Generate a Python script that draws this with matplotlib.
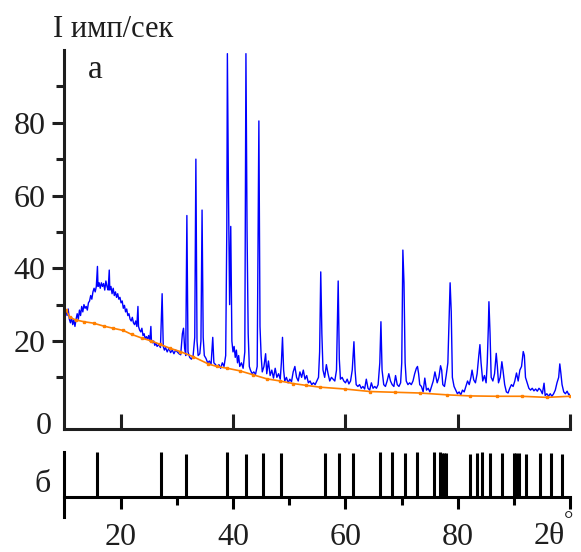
import matplotlib.pyplot as plt

# diffractogram (a)
two_theta = [
    10.3, 10.5, 10.7, 10.9, 11.1, 11.3, 11.5, 11.7, 11.9, 12.1, 12.3, 12.5, 12.7, 12.9,
    13.1, 13.3, 13.5, 13.7, 13.9, 14.1, 14.3, 14.5, 14.7, 14.9, 15.1, 15.3, 15.5, 15.7,
    15.9, 16.0, 16.2, 16.4, 16.6, 16.8, 17.0, 17.2, 17.4, 17.6, 17.8, 18.0, 18.1, 18.3,
    18.5, 18.7, 18.9, 19.1, 19.3, 19.5, 19.7, 19.9, 20.1, 20.3, 20.5, 20.7, 20.9, 21.1,
    21.3, 21.5, 21.7, 21.9, 22.1, 22.3, 22.5, 22.7, 22.9, 23.1, 23.2, 23.4, 23.6, 23.8,
    24.0, 24.2, 24.4, 24.6, 24.8, 25.0, 25.2, 25.4, 25.5, 25.7, 25.9, 26.1, 26.3, 26.5,
    26.8, 27.1, 27.4, 27.6, 27.8, 28.0, 28.3, 28.6, 28.9, 29.2, 29.5, 29.8, 30.1, 30.4,
    30.7, 31.0, 31.2, 31.4, 31.6, 31.8, 32.0, 32.3, 32.6, 32.9, 33.2, 33.4, 33.6, 33.8,
    34.1, 34.3, 34.5, 34.7, 34.9, 35.2, 35.5, 35.8, 36.1, 36.4, 36.6, 36.9, 37.2, 37.5,
    37.8, 38.1, 38.4, 38.7, 38.9, 39.0, 39.2, 39.4, 39.6, 39.8, 40.0, 40.2, 40.4, 40.6,
    40.8, 41.0, 41.2, 41.5, 41.8, 42.1, 42.3, 42.5, 42.7, 42.9, 43.1, 43.4, 43.7, 44.0,
    44.3, 44.6, 44.8, 45.0, 45.2, 45.5, 45.8, 46.0, 46.3, 46.6, 46.9, 47.2, 47.5, 47.8,
    48.1, 48.4, 48.6, 48.8, 49.0, 49.2, 49.5, 49.8, 50.1, 50.4, 50.7, 51.0, 51.3, 51.6,
    51.9, 52.2, 52.5, 52.8, 53.1, 53.4, 53.7, 54.0, 54.3, 54.6, 54.9, 55.2, 55.4, 55.6,
    55.8, 56.0, 56.3, 56.6, 56.9, 57.2, 57.5, 57.8, 58.1, 58.4, 58.7, 58.9, 59.1, 59.4,
    59.7, 60.0, 60.3, 60.6, 60.9, 61.2, 61.5, 61.7, 61.9, 62.2, 62.5, 62.8, 63.1, 63.4,
    63.7, 64.0, 64.3, 64.6, 64.9, 65.2, 65.5, 65.8, 66.1, 66.3, 66.5, 66.8, 67.1, 67.4,
    67.7, 68.0, 68.3, 68.6, 68.9, 69.2, 69.5, 69.8, 70.0, 70.2, 70.4, 70.6, 70.8, 71.1,
    71.4, 71.7, 72.0, 72.3, 72.6, 72.8, 73.0, 73.2, 73.5, 73.8, 74.1, 74.4, 74.7, 75.0,
    75.3, 75.6, 75.9, 76.1, 76.3, 76.6, 76.9, 77.1, 77.3, 77.6, 77.9, 78.2, 78.4, 78.6,
    78.8, 79.0, 79.3, 79.6, 79.9, 80.2, 80.5, 80.8, 81.1, 81.4, 81.7, 82.0, 82.3, 82.5,
    82.8, 83.1, 83.4, 83.7, 83.9, 84.1, 84.4, 84.7, 85.0, 85.2, 85.4, 85.5, 85.7, 85.9,
    86.2, 86.5, 86.8, 87.0, 87.2, 87.5, 87.8, 88.0, 88.3, 88.6, 88.9, 89.2, 89.5, 89.8,
    90.1, 90.4, 90.7, 91.0, 91.3, 91.6, 91.8, 92.0, 92.3, 92.6, 92.9, 93.2, 93.5, 93.8,
    94.1, 94.4, 94.7, 95.0, 95.3, 95.5, 95.8, 96.1, 96.4, 96.7, 97.0, 97.3, 97.6, 97.9,
    98.1, 98.3, 98.5, 98.8, 99.1, 99.4, 99.7, 100.0,
]
intensity = [
    28.5, 27, 28.8, 26, 25, 26.5, 24.5, 25.8, 24, 26, 27.5, 26, 28.5, 27,
    29.5, 28, 30, 29, 29.5, 28.5, 30.5, 31, 32.5, 31.5, 33.5, 34.5, 33.5, 35,
    40.5, 35, 36, 34.5, 36, 35, 35.8, 34, 36.5, 35, 34, 39.5, 34, 35,
    33, 34.5, 32.5, 33.5, 32, 33, 31.5, 32, 30.5, 31, 29, 29.8, 28, 28.8,
    27, 27.5, 26, 25.5, 26.5, 25, 24.5, 25.5, 24, 29.5, 24, 23, 22.5, 23.5,
    21.5, 22, 20.5, 21.2, 20.5, 21.5, 20, 24, 20, 19.5, 20, 18.8, 19.5, 18.5,
    19, 18.2, 33, 18.5, 17.5, 18.2, 17, 18, 16.8, 17.5, 16.5, 17.5, 17, 16.5,
    16.2, 22, 23.5, 18, 16, 54.5, 17, 15.5, 15, 15.8, 21, 70, 20, 16,
    16.5, 20, 56, 21, 16, 15.2, 14, 14.5, 13.5, 21, 14, 13.5, 12.8, 13.5,
    12.5, 14, 13, 16, 51, 99, 60, 30, 51.5, 20, 17, 18.5, 15.5, 17.5,
    14, 16, 13, 14, 12.5, 17, 99, 50, 22, 13, 12, 11, 11.5, 10.8,
    13, 80.5, 24, 16, 11.5, 13, 16.5, 11, 14.5, 10.5, 12, 9.8, 12.5, 10,
    11, 9.5, 14, 21, 12, 9, 10, 8.5, 9.5, 8.8, 11.5, 13, 10, 9,
    11.5, 10, 12, 9.5, 10.5, 8.5, 9, 8, 8.5, 8, 9, 10, 17, 39,
    22, 12, 10, 13.5, 11, 9, 10, 9.5, 9, 12, 36.5, 15, 9.5, 10,
    9, 8.5, 9.5, 8.2, 9, 12, 19.8, 12, 8, 7.5, 8, 7, 7.5, 6.8,
    9.5, 7, 6.5, 8.5, 7, 7.5, 7, 8, 14, 25.3, 12, 8, 7.5, 9,
    11, 9, 8, 7.5, 10.5, 8, 7.5, 8.5, 14, 45, 36, 14, 9, 8,
    8.5, 8, 9, 11, 12.5, 13, 11, 8, 7.5, 6, 9.8, 6.5, 7, 6,
    7.5, 9, 11.5, 10, 8.5, 10, 13.2, 12, 8, 7.5, 10.5, 14, 25, 36,
    28, 10, 7.5, 6.5, 5.5, 6, 5.2, 6.5, 6, 7.5, 9, 8, 10, 12,
    9.3, 8.5, 11, 16, 19, 14, 9, 10.5, 8.5, 14, 24, 30.8, 22, 10,
    9, 11, 16.6, 13, 8.5, 10, 14.3, 12, 8, 6, 5.7, 7, 8, 7.5,
    9, 11.2, 9, 12, 13, 17.1, 16, 10, 8.5, 7, 6.5, 7, 6.3, 6.8,
    6.2, 7, 6.5, 5.5, 8.4, 5, 5.5, 4.8, 5.5, 4.8, 5.5, 6.5, 8.5, 10,
    13.7, 11, 8, 6, 5.5, 6.2, 5.2, 5.5,
]

# background line
bg_theta = [10.3, 11.0, 12.0, 13.5, 15.2, 17.0, 18.7, 20.5, 22.0, 23.8, 25.5, 27.0,
            28.8, 30.6, 32.9, 35.6, 37.1, 39.0, 41.2, 43.6, 46.0, 48.4, 50.7, 53.0,
            55.5, 59.9, 64.4, 68.8, 73.2, 78.0, 82.1, 86.9, 91.3, 95.8, 99.9]
bg_intensity = [28.5, 26.5, 25.8, 25.3, 24.9, 24.1, 23.5, 22.9, 21.8, 20.8, 20.0, 19.1,
                18.0, 17.1, 15.7, 13.7, 13.0, 12.5, 11.8, 10.7, 9.6, 9.0, 8.3, 7.8,
                7.3, 6.8, 6.1, 5.9, 5.7, 5.2, 4.9, 4.8, 4.8, 4.5, 4.8]

# reference lines (б)
ref_theta = [15.8, 27.2, 31.6, 39.0, 42.4, 45.3, 48.6, 56.4, 58.9, 61.3, 66.1, 68.3,
             70.5, 72.8, 75.7, 76.8, 77.2, 77.5, 77.9, 82.1, 83.4, 84.2, 85.7, 87.9,
             90.0, 90.4, 90.8, 92.1, 94.6, 96.5, 98.5]
ref_height = [1.0, 1.0, 0.96, 1.0, 0.96, 0.98, 0.98, 0.97, 0.97, 0.97, 1.0, 1.0,
              0.97, 1.0, 1.0, 1.0, 0.98, 0.98, 0.98, 0.96, 0.98, 1.0, 0.98, 0.97,
              0.98, 0.98, 0.98, 0.96, 0.98, 0.97, 0.96]

ink = "#1e1e1e"
plt.rcParams['font.family'] = ['Liberation Serif', 'DejaVu Serif']

fig = plt.figure(figsize=(5.81, 5.52), dpi=100)
ax = fig.add_axes([0.1106, 0.2228, 0.8713, 0.6866])
ax2 = fig.add_axes([0.1106, 0.0634, 0.8713, 0.1178])

ax.plot(two_theta, intensity, color="#0000ff", lw=1.0)
ax.plot(bg_theta, bg_intensity, color="#ff8000", lw=1.2, marker="s", ms=1.8)

ax.set_xlim(10, 100)
ax.set_ylim(-4.2, 100)
for side in ["top", "right"]:
    ax.spines[side].set_visible(False)
for side in ["left", "bottom"]:
    ax.spines[side].set_linewidth(2.2)
    ax.spines[side].set_color(ink)
ax.set_xticks([20, 40, 60, 80, 100])
ax.set_xticklabels([])
ax.tick_params(axis="x", direction="in", length=11, width=2.2, color=ink)
ax.set_yticks([20, 40, 60, 80])
ax.set_yticks([10, 30, 50, 70, 90], minor=True)
ax.tick_params(axis="y", which="major", direction="out", length=8.6, width=2.2,
               color=ink, labelsize=23, labelcolor=ink, pad=5)
ax.tick_params(axis="y", which="minor", direction="out", length=6, width=2.2, color=ink)
fig.text(43.5 / 581, 1 - 426 / 552, "0", fontsize=23, color=ink, ha="center", va="center")
fig.text(53 / 581, 1 - 37 / 552, "I имп/сек", fontsize=22, color=ink, va="baseline")
ax.text(88 / 581, 1 - 78 / 552, "a", transform=fig.transFigure, fontsize=24, color=ink,
        va="baseline")

ax2.vlines(ref_theta, 0, ref_height, color="black", lw=2.2)
ax2.set_xlim(10, 100)
ax2.set_ylim(-0.43, 1.0)
for side in ["top", "right"]:
    ax2.spines[side].set_visible(False)
ax2.spines["bottom"].set_position(("data", 0))
for side in ["left", "bottom"]:
    ax2.spines[side].set_linewidth(2.2)
    ax2.spines[side].set_color("black")
ax2.set_yticks([])
ax2.set_xticks([20, 40, 60, 80, 100])
ax2.set_xticklabels(["20", "40", "60", "80", ""])
ax2.set_xticks([30, 50, 70, 90], minor=True)
ax2.tick_params(axis="x", which="major", direction="out", length=8.6, width=2.2,
                labelsize=23, labelcolor=ink, pad=10)
ax2.tick_params(axis="x", which="minor", direction="out", length=6, width=2.2)
fig.text(42.5 / 581, 1 - 485 / 552, "б", fontsize=23, color=ink, ha="center", va="center")
fig.text(565 / 581, 1 - 544 / 552, "2θ", fontsize=23, color=ink, ha="right", va="baseline")
fig.text(564 / 581, 1 - 527 / 552, "°", fontsize=17, color=ink, va="baseline")

fig.savefig("out.png", dpi=100)
